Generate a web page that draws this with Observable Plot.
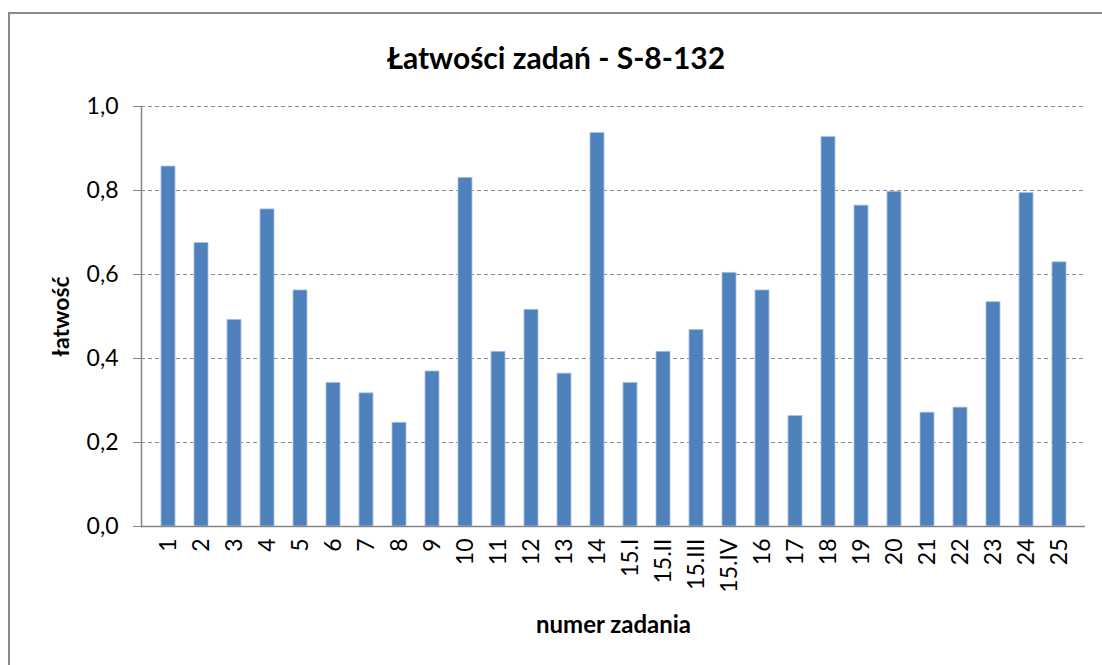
<!DOCTYPE html>
<html>
<head>
<meta charset="utf-8">
<script src="https://cdn.jsdelivr.net/npm/d3@7"></script>
<script src="https://cdn.jsdelivr.net/npm/@observablehq/plot@0.6"></script>
<style>
  html, body { margin: 0; padding: 0; background: #fff; }
  #wrap { position: relative; width: 1102px; height: 665px; overflow: hidden; font-family: Lato, "Open Sans", sans-serif; }
  #border { position: absolute; left: 8px; top: 12px; width: 1100px; height: 700px; border: 2px solid #8a8a8a; box-sizing: border-box; }
  #title { position: absolute; left: 0; width: 1112px; top: 39px; line-height: 1.2; text-align: center; font-weight: bold; font-size: 30px; color: #000; }
  #chart { position: absolute; left: 0; top: 0; }
</style>
</head>
<body>
<div id="wrap">
  <div id="border"></div>
  <div id="chart"></div>
  <div id="title"></div>
</div>
<script>
const titleText = "Łatwości zadań - S-8-132";
const xLabel = "numer zadania";
const yLabel = "łatwość";
const categories = ["1","2","3","4","5","6","7","8","9","10","11","12","13","14","15.I","15.II","15.III","15.IV","16","17","18","19","20","21","22","23","24","25"];
const values = [0.857,0.675,0.492,0.755,0.562,0.342,0.317,0.247,0.369,0.830,0.416,0.516,0.364,0.937,0.342,0.416,0.468,0.604,0.562,0.263,0.927,0.764,0.797,0.271,0.283,0.534,0.794,0.629];
const yTicks = [0, 0.2, 0.4, 0.6, 0.8, 1.0];

document.getElementById("title").textContent = titleText;
const data = categories.map((c, i) => ({zadanie: c, value: values[i]}));

const chart = Plot.plot({
  width: 1102,
  height: 665,
  marginLeft: 141,
  marginRight: 17,
  marginTop: 106,
  marginBottom: 139,
  style: {fontFamily: "Lato, 'Open Sans', sans-serif", background: "transparent", color: "#000"},
  x: {domain: categories, padding: 0.58, label: null},
  y: {domain: [0, 1], label: null},
  marks: [
    Plot.gridY(yTicks.slice(1), {stroke: "#8c8c8c", strokeOpacity: 1, strokeDasharray: "4,3", strokeWidth: 1}),
    Plot.barY(data, {x: "zadanie", y: "value", fill: "#4F81BD", stroke: "#a9c3e3", strokeWidth: 0.8}),
    Plot.ruleY([0], {stroke: "#868686", strokeWidth: 1.5}),
    Plot.frame({anchor: "left", stroke: "#868686", strokeWidth: 1.5}),
    Plot.axisY({ticks: yTicks, tickSize: 8, tickPadding: 15, stroke: "#868686", fontSize: 23, tickFormat: d => d3.format(".1f")(d).replace(".", ","), label: null}),
    Plot.axisX({tickSize: 0, tickPadding: 12, tickRotate: -90, fontSize: 23, label: null}),
    Plot.text([xLabel], {frameAnchor: "bottom", dy: 106, fontSize: 24, fontWeight: "bold", fill: "#000"}),
    Plot.text([yLabel], {frameAnchor: "left", textAnchor: "middle", dx: -80, rotate: -90, fontSize: 23, fontWeight: "bold", fill: "#000"})
  ]
});
document.getElementById("chart").appendChild(chart);
</script>
</body>
</html>
